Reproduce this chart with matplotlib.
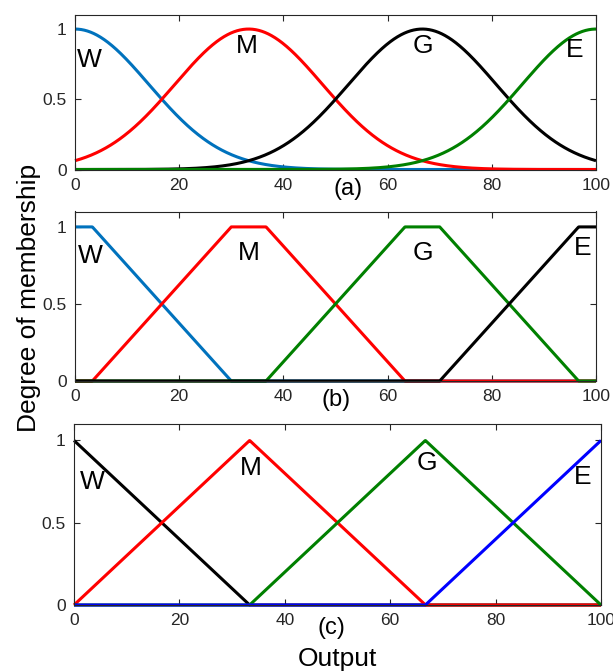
import numpy as np
import matplotlib.pyplot as plt

plt.rcParams["font.family"] = ["Liberation Sans", "DejaVu Sans"]

SET_NAMES = ["W", "M", "G", "E"]
X_TICKS = [0, 20, 40, 60, 80, 100]
Y_TICKS = [0, 0.5, 1]
Y_TICK_LABELS = ["0", "0.5", "1"]

# (a) gaussian membership functions: centre, sigma
GAUSS_CENTERS = [0.0, 33.33, 66.67, 100.0]
GAUSS_SIGMA = [14.16, 14.16, 14.16, 14.16]
GAUSS_COLORS = ["#0072BD", "#FF0000", "#000000", "#008000"]
GAUSS_LABEL_POS = [(2.7, 0.78), (33.0, 0.88), (66.7, 0.88), (96.0, 0.85)]

# (b) trapezoidal membership functions: a, b, c, d
TRAP_PARAMS = [
    [-26.67, 0.0, 3.33, 30.0],
    [3.33, 30.0, 36.67, 63.33],
    [36.67, 63.33, 70.0, 96.67],
    [70.0, 96.67, 100.0, 126.67],
]
TRAP_COLORS = ["#0072BD", "#FF0000", "#008000", "#000000"]
TRAP_LABEL_POS = [(3.0, 0.81), (33.3, 0.83), (66.7, 0.83), (97.5, 0.86)]

# (c) triangular membership functions: a, b, c
TRI_PARAMS = [
    [-33.33, 0.0, 33.33],
    [0.0, 33.33, 66.67],
    [33.33, 66.67, 100.0],
    [66.67, 100.0, 133.33],
]
TRI_COLORS = ["#000000", "#FF0000", "#008000", "#0000FF"]
TRI_LABEL_POS = [(3.4, 0.75), (33.5, 0.835), (67.0, 0.86), (96.5, 0.78)]


def gaussmf(x, c, s):
    return np.exp(-((x - c) ** 2) / (2 * s ** 2))


def trapmf(x, a, b, c, d):
    up = (x - a) / (b - a)
    down = (d - x) / (d - c)
    return np.clip(np.minimum(np.minimum(up, 1.0), down), 0.0, 1.0)


def trimf(x, a, b, c):
    return trapmf(x, a, b, b, c)


def style_axes(ax):
    ax.set_xlim(0, 100)
    ax.set_ylim(0, 1.1)
    ax.set_xticks(X_TICKS)
    ax.set_yticks(Y_TICKS)
    ax.set_yticklabels(Y_TICK_LABELS)
    ax.tick_params(direction="in", top=True, right=True, labelsize=12.5,
                   length=4, width=0.8, colors="#262626", pad=6)
    for sp in ax.spines.values():
        sp.set_color("#262626")
        sp.set_linewidth(0.8)


def draw_panel(ax, curves, colors, label_pos):
    for y, col in zip(curves, colors):
        ax.plot(x, y, color=col, linewidth=2.2, clip_on=False, solid_capstyle="butt")
    for name, (lx, ly) in zip(SET_NAMES, label_pos):
        ax.text(lx, ly, name, fontsize=19, ha="center", va="center", color="black")
    style_axes(ax)


x = np.linspace(0, 100, 1001)

fig = plt.figure(figsize=(6.13, 6.71), dpi=100)
W, H = 613, 671


def add_axes_px(left, top, right, bottom):
    return fig.add_axes([left / W, 1 - bottom / H, (right - left) / W, (bottom - top) / H])


ax_a = add_axes_px(75, 15, 596, 169.5)
ax_b = add_axes_px(75, 211.5, 596, 381)
ax_c = add_axes_px(74, 424, 601, 605)

draw_panel(ax_a, [gaussmf(x, c, s) for c, s in zip(GAUSS_CENTERS, GAUSS_SIGMA)],
           GAUSS_COLORS, GAUSS_LABEL_POS)
draw_panel(ax_b, [trapmf(x, *p) for p in TRAP_PARAMS], TRAP_COLORS, TRAP_LABEL_POS)
draw_panel(ax_c, [trimf(x, *p) for p in TRI_PARAMS], TRI_COLORS, TRI_LABEL_POS)

fig.text(348 / W, 1 - 189 / H, "(a)", fontsize=17, ha="center", va="center")
fig.text(336 / W, 1 - 400 / H, "(b)", fontsize=17, ha="center", va="center")
fig.text(331 / W, 1 - 628 / H, "(c)", fontsize=17, ha="center", va="center")
fig.text(337 / W, 1 - 659 / H, "Output", fontsize=19, ha="center", va="center")
fig.text(29 / W, 1 - 298 / H, "Degree of membership", fontsize=19,
         ha="center", va="center", rotation=90)

fig.savefig("out.png", dpi=100)
